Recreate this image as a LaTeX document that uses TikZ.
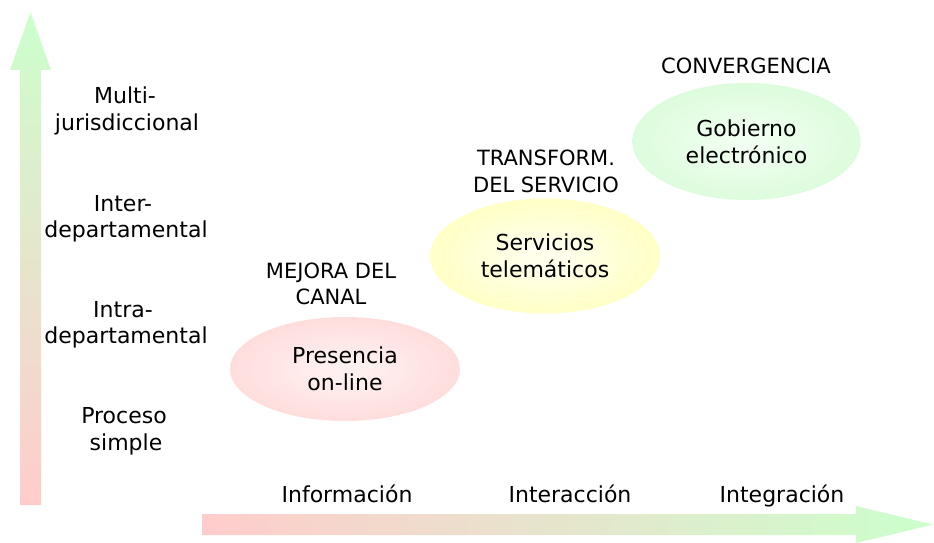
\documentclass[tikz,border=0pt]{standalone}
\usepackage{fontspec}
\setmainfont{DejaVu Sans}
\usetikzlibrary{shapes.geometric}
\definecolor{pinkc}{HTML}{FFCCCC}
\definecolor{greenc}{HTML}{CCFFCC}
\definecolor{pinkin}{HTML}{FFF0F0}
\definecolor{pinkout}{HTML}{FFC6C6}
\definecolor{yelin}{HTML}{FFFFEC}
\definecolor{yelout}{HTML}{FFFF99}
\definecolor{grnin}{HTML}{F0FFF0}
\definecolor{grnout}{HTML}{C6F8C6}
\pgfdeclareradialshading{pinkell}{\pgfpoint{0bp}{0bp}}{color(0bp)=(pinkin); color(4bp)=(pinkin); color(50bp)=(pinkout)}
\pgfdeclareradialshading{yelell}{\pgfpoint{0bp}{0bp}}{color(0bp)=(yelin); color(4bp)=(yelin); color(50bp)=(yelout)}
\pgfdeclareradialshading{grnell}{\pgfpoint{0bp}{0bp}}{color(0bp)=(grnin); color(4bp)=(grnin); color(50bp)=(grnout)}
\tikzset{
  lbl/.style={font=\fontsize{22}{27}\selectfont, anchor=base, inner sep=0pt, text=black},
  captxt/.style={font=\fontsize{21}{27}\selectfont, anchor=base, inner sep=0pt, text=black},
  ell/.style={ellipse, inner sep=0pt, align=center, font=\fontsize{22}{27}\selectfont, text=black}
}
\begin{document}
\begin{tikzpicture}[x=1pt,y=-1pt]
\useasboundingbox (0,0) rectangle (934,543);
% axes
\shade[top color=greenc, bottom color=pinkc]
  (20,505) -- (20,70) -- (10,70) -- (30.5,12) -- (51,70) -- (41,70) -- (41,505) -- cycle;
\shade[left color=pinkc, right color=greenc]
  (202,514) -- (856,514) -- (856,506) -- (933,524.5) -- (856,543) -- (856,535) -- (202,535) -- cycle;
% y labels
\node[lbl] (m1) at (125,103) {Multi-};
\node[lbl] (m2) at (127,130) {jurisdiccional};
\node[lbl] (i1) at (123,211) {Inter-};
\node[lbl] (i2) at (126,237) {departamental};
\node[lbl] (n1) at (123,317) {Intra-};
\node[lbl] (n2) at (126,343) {departamental};
\node[lbl] (p1) at (124,423) {Proceso};
\node[lbl] (p2) at (126,450) {simple};
% x labels
\node[lbl] (x1) at (347,502) {Información};
\node[lbl] (x2) at (570,502) {Interacción};
\node[lbl] (x3) at (782,502) {Integración};
% ellipses
\node[ell, shade, shading=pinkell, minimum width=230pt, minimum height=104pt] (pres) at (345,369) {Presencia\\on-line};
\node[ell, shade, shading=yelell, minimum width=230pt, minimum height=115pt] (serv) at (545,256) {Servicios\\telemáticos};
\node[ell, shade, shading=grnell, minimum width=228pt, minimum height=117pt] (gob) at (746.5,141.5) {Gobierno\\electrónico};
% captions
\node[captxt] (c1) at (331,278) {MEJORA DEL};
\node[captxt] (c2) at (331,304) {CANAL};
\node[captxt] (t1) at (546,165) {TRANSFORM.};
\node[captxt] (t2) at (546,192) {DEL SERVICIO};
\node[captxt] (cv) at (746,74) {CONVERGENCIA};
\end{tikzpicture}
\end{document}
